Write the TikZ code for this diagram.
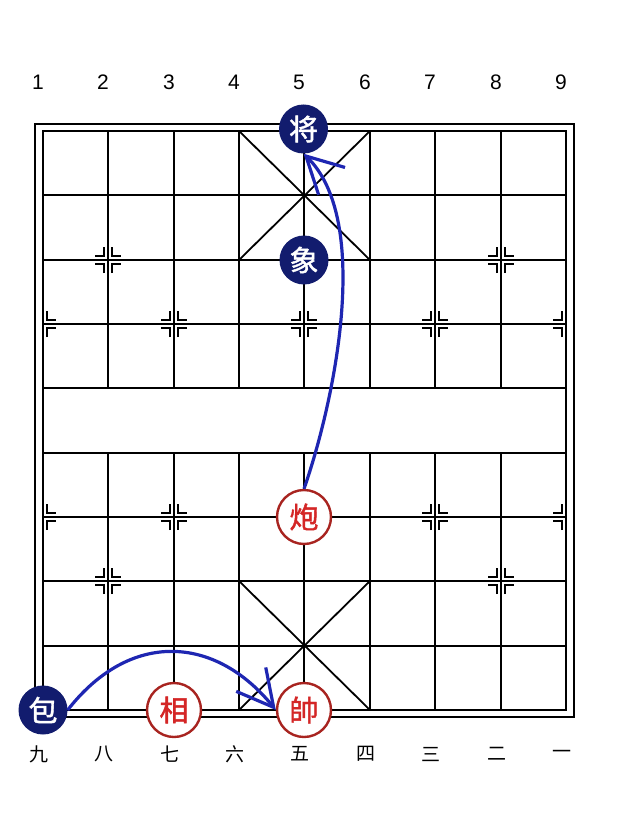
\documentclass[tikz,border=0pt]{standalone}
\usepackage{fontspec}
\setmainfont{Liberation Sans}
\newfontfamily\cjk{Noto Sans CJK SC}
\newfontfamily\cjkbold[FakeBold=1.5]{Noto Sans CJK SC}
\usetikzlibrary{arrows.meta}

\definecolor{piecenavy}{RGB}{18,28,110}
\definecolor{moveblue}{RGB}{30,38,178}
\definecolor{ringred}{RGB}{168,36,32}
\definecolor{charred}{RGB}{212,38,38}

\tikzset{
  blackpiece/.style={circle, fill=piecenavy, minimum size=49pt, inner sep=0pt, text=white, font=\cjkbold\fontsize{29}{29}\selectfont},
  redpiece/.style={circle, draw=ringred, line width=2.4pt, fill=white, minimum size=54pt, inner sep=0pt, text=charred, font=\cjkbold\fontsize{29}{29}\selectfont},
  movearrow/.style={draw=moveblue, line width=3.2pt, -{Straight Barb[length=36pt,width=38pt]}},
  gridline/.style={line width=1.8pt},
}

\begin{document}
\begin{tikzpicture}[x=1pt,y=1pt,yscale=-1,xscale=1]
\useasboundingbox (0,0) rectangle (616,834);

%Shape: Rectangle [outer frame]
\draw [line width=2pt] (35,124) rectangle (574,717) ;
%Shape: Rectangle [board]
\draw [gridline] (43,131) rectangle (566,710) ;
%Straight Lines [ranks]
\foreach \y in {195,260,324,388,453,517,581,646}
  \draw [gridline] (43,\y) -- (566,\y) ;
%Straight Lines [files, cut at the river]
\foreach \x in {108,174,239,304,370,435,501} {
  \draw [gridline] (\x,131) -- (\x,388) ;
  \draw [gridline] (\x,453) -- (\x,710) ;
}
%Straight Lines [palaces]
\draw [gridline] (239,131) -- (370,260) (370,131) -- (239,260) ;
\draw [gridline] (239,581) -- (370,710) (370,581) -- (239,710) ;

%Straight Lines [position marks]
\foreach \x/\y/\sides in {108/260/{-1,1},501/260/{-1,1},108/581/{-1,1},501/581/{-1,1},
    43/324/{1},174/324/{-1,1},304/324/{-1,1},435/324/{-1,1},566/324/{-1},
    43/517/{1},174/517/{-1,1},304/517/{-1,1},435/517/{-1,1},566/517/{-1}}
  \foreach \sx in \sides
    \foreach \sy in {-1,1}
      \draw [line width=1.5pt] ({\x+4*\sx},{\y+13*\sy}) -- ({\x+4*\sx},{\y+4*\sy}) -- ({\x+13*\sx},{\y+4*\sy}) ;

% Pieces
\node [blackpiece] (jiang) at (303.5,129) {将};
\node [blackpiece] (xiang) at (304,260) {象};
\node [redpiece] (pao) at (304,517) {炮};
\node [blackpiece] (bao) at (43,710) {包};
\node [redpiece] (xiangr) at (174,710) {相};
\node [redpiece] (shuai) at (304,710) {帥};

%Curve Lines [moves]
\draw [movearrow] (pao.north) .. controls (335,400) and (372,220) .. (jiang.south) ;
\draw [movearrow] (bao.east) .. controls (130,630) and (215,635) .. (shuai.west) ;

% Text Node [file numbers, top]
\foreach \n/\x in {1/43,2/108,3/174,4/239,5/304,6/370,7/435,8/501,9/566}
  \node [font=\fontsize{21}{21}\selectfont] (top\n) at (\x-5,82) {\n};
% Text Node [file numbers, bottom]
\foreach \ch/\x [count=\i] in {九/43,八/108,七/174,六/239,五/304,四/370,三/435,二/501,一/566}
  \node [font=\cjk\fontsize{19}{19}\selectfont] (bot\i) at (\x-4,754) {\ch};

\end{tikzpicture}
\end{document}
